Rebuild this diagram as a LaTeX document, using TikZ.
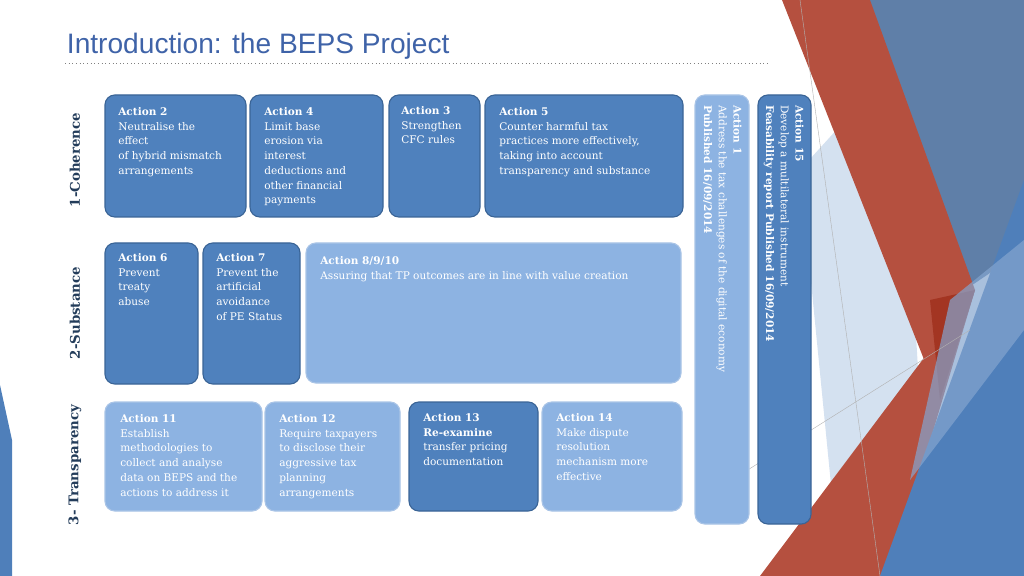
\documentclass[tikz,border=0pt]{standalone}
\usepackage{fontspec}
\setmainfont{DejaVu Serif}
\newfontfamily\titlefont{Liberation Sans}
\definecolor{darkbox}{HTML}{4F81BD}
\definecolor{darkline}{HTML}{3A6496}
\definecolor{lightbox}{HTML}{8DB3E2}
\definecolor{lightline}{HTML}{A9C4E6}
\definecolor{titleblue}{HTML}{3F63A8}
\definecolor{bgred}{HTML}{B5503F}
\definecolor{bgdeepred}{HTML}{A33522}
\definecolor{bgblue}{HTML}{4F7FBA}
\definecolor{bgslate}{HTML}{5F7FA8}
\definecolor{bgpale}{HTML}{C9D9EC}
\begin{document}
\begin{tikzpicture}[x=0.025cm,y=-0.025cm,
  actbox/.style={rounded corners=7pt,fill=darkbox,draw=darkline,line width=0.8pt},
  actlight/.style={rounded corners=7pt,fill=lightbox,draw=lightline,line width=0.8pt},
  acttext/.style={anchor=north west,text=white,font=\fontsize{7.5}{10.5}\selectfont,align=left,inner sep=0pt},
  rowlabel/.style={rotate=90,text=darkline!60!black,font=\bfseries\fontsize{9.5}{11}\selectfont}]
\useasboundingbox (0,0) rectangle (1024,576);
% background shapes
\fill[bgpale,opacity=0.8] (800,170) -- (900,60) -- (930,576) -- (840,576) -- cycle;
\fill[bgslate] (860,0) -- (1024,0) -- (1024,250) -- (950,300) -- cycle;
\fill[bgred] (782,0) -- (870,0) -- (975,290) -- (940,400) -- cycle;
\fill[bgred] (760,576) -- (975,290) -- (890,576) -- cycle;
\fill[bgdeepred] (930,300) -- (975,290) -- (940,400) -- cycle;
\fill[bgblue] (880,576) -- (1024,180) -- (1024,576) -- cycle;
\fill[bgblue!70!white,opacity=0.7] (950,300) -- (1024,240) -- (1024,330) -- (910,480) -- cycle;
\draw[gray!60,line width=0.3pt] (800,0) -- (880,576);
\draw[gray!60,line width=0.3pt] (700,500) -- (970,330);
\fill[bgblue] (0,385) -- (12,440) -- (12,576) -- (0,576) -- cycle;
% title
\node[anchor=west,text=titleblue,font=\titlefont\fontsize{20}{24}\selectfont] (title) at (62,46) {Introduction: the BEPS Project};
\draw[gray,dotted,line width=0.6pt] (65,63) -- (770,63);
% row labels
\node[rowlabel] (coh) at (75,160) {1-Coherence};
\node[rowlabel] (sub) at (75,313) {2-Substance};
\node[rowlabel] (tra) at (75,465) {3- Transparency};
% row 1
\draw[actbox] (105,95) rectangle (246,217);
\node[acttext] (a2) at (118,107) {\textbf{Action 2}\\Neutralise the\\effect\\of hybrid mismatch\\arrangements};
\draw[actbox] (250,95) rectangle (383,217);
\node[acttext] (a4) at (264,107) {\textbf{Action 4}\\Limit base\\erosion via\\interest\\deductions and\\other financial\\payments};
\draw[actbox] (389,95) rectangle (480,217);
\node[acttext] (a3) at (401,106) {\textbf{Action 3}\\Strengthen\\CFC rules};
\draw[actbox] (485,95) rectangle (683,217);
\node[acttext] (a5) at (499,107) {\textbf{Action 5}\\Counter harmful tax\\practices more effectively,\\taking into account\\transparency and substance};
% row 2
\draw[actbox] (105,243) rectangle (198,384);
\node[acttext] (a6) at (118,253) {\textbf{Action 6}\\Prevent\\treaty\\abuse};
\draw[actbox] (203,243) rectangle (300,384);
\node[acttext] (a7) at (216,253) {\textbf{Action 7}\\Prevent the\\artificial\\avoidance\\of PE Status};
\draw[actlight] (306,243) rectangle (681,383);
\node[acttext] (a8) at (320,256) {\textbf{Action 8/9/10}\\Assuring that TP outcomes are in line with value creation};
% row 3
\draw[actlight] (105,402) rectangle (262,511);
\node[acttext] (a11) at (120,414) {\textbf{Action 11}\\Establish\\methodologies to\\collect and analyse\\data on BEPS and the\\actions to address it};
\draw[actlight] (265,402) rectangle (400,511);
\node[acttext] (a12) at (279,414) {\textbf{Action 12}\\Require taxpayers\\to disclose their\\aggressive tax\\planning\\arrangements};
\draw[actbox] (409,402) rectangle (538,511);
\node[acttext] (a13) at (423,413) {\textbf{Action 13}\\\textbf{Re-examine}\\transfer pricing\\documentation};
\draw[actlight] (542,402) rectangle (682,511);
\node[acttext] (a14) at (556,413) {\textbf{Action 14}\\Make dispute\\resolution\\mechanism more\\effective};
% right column
\draw[actlight] (695,95) rectangle (749,524);
\node[acttext,rotate=-90] (a1) at (742,105) {\textbf{Action 1}\\Address the tax challenges of the digital economy\\\textbf{Published 16/09/2014}};
\draw[actbox] (758,95) rectangle (811,524);
\node[acttext,rotate=-90] (a15) at (804,105) {\textbf{Action 15}\\Develop a multilateral instrument\\\textbf{Feasability report Published 16/09/2014}};
\end{tikzpicture}
\end{document}
